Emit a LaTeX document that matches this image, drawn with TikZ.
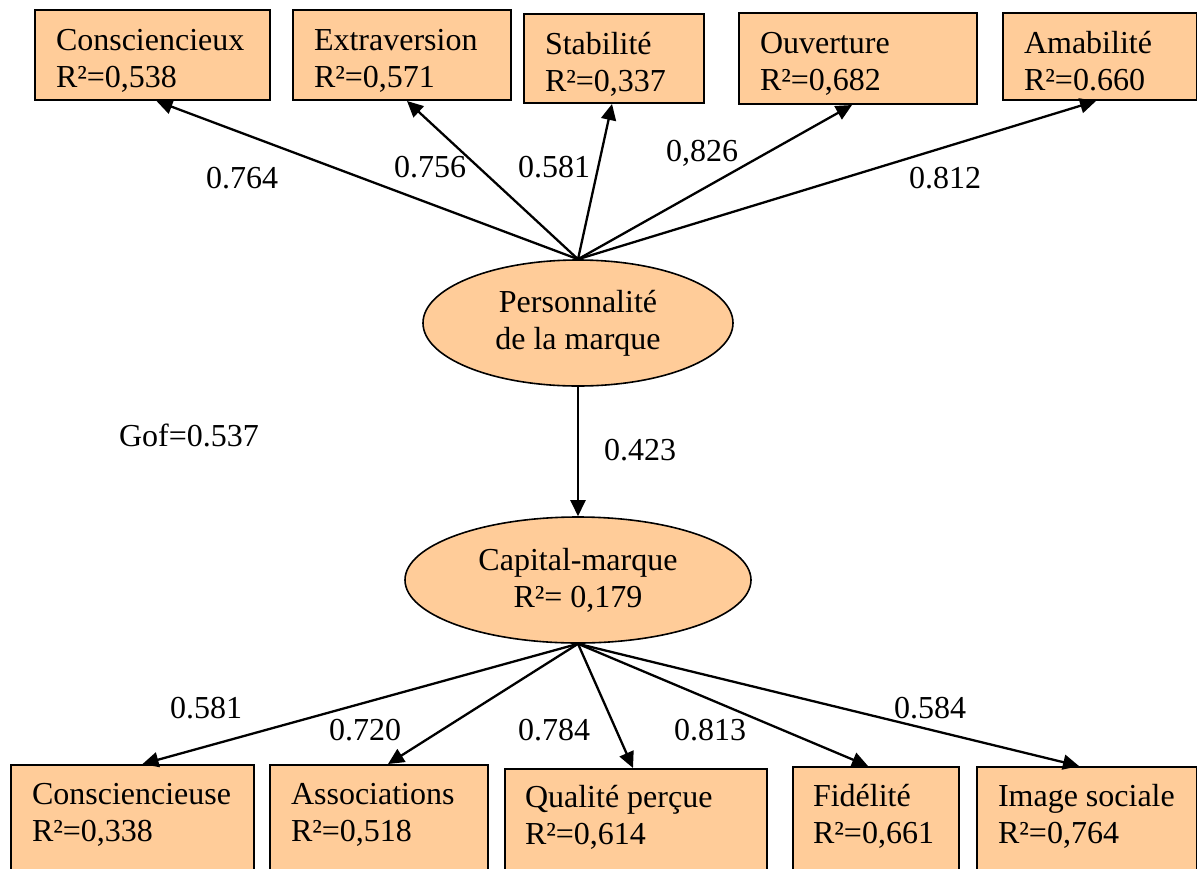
\documentclass[tikz,border=0pt]{standalone}
\usepackage{fontspec}
\setmainfont{Liberation Serif}
\usetikzlibrary{arrows.meta,shapes.geometric}
\definecolor{peach}{HTML}{FFCC99}
\begin{document}
\begin{tikzpicture}[x=1pt,y=-1pt,
  every node/.style={font=\fontsize{32pt}{37pt}\selectfont},
  ind/.style={draw=black, line width=2pt, fill=peach, anchor=north west,
              inner xsep=21pt, inner ysep=0pt, text height=40pt},
  lat/.style={ellipse, draw=black, line width=1.6pt, fill=peach, align=center, inner sep=0pt},
  coef/.style={inner sep=0pt},
  link/.style={line width=2.3pt, -{Triangle[length=16pt,width=15pt]}}
]
\useasboundingbox[fill=white] (0,0) rectangle (1197,868);

% latent variables
\node[lat, minimum width=310pt, minimum height=126pt] (P) at (578,323) {Personnalité\\de la marque};
\node[lat, minimum width=346pt, minimum height=126pt] (C) at (578,580) {Capital-marque\\R²= 0,179};

% top indicators
\node[ind, text depth=50pt] (c1) at (34,9)   {\parbox[t]{193pt}{Consciencieux\\R²=0,538}};
\node[ind, text depth=50pt] (c2) at (292,9)  {\parbox[t]{176pt}{Extraversion\\R²=0,571}};
\node[ind, text depth=49pt] (c3) at (523,13) {\parbox[t]{138pt}{Stabilité\\R²=0,337}};
\node[ind, text depth=51pt] (c4) at (738,12) {\parbox[t]{196pt}{Ouverture\\R²=0,682}};
\node[ind, text depth=47pt] (c5) at (1002,12){\parbox[t]{152pt}{Amabilité\\R²=0.660}};

% bottom indicators
\node[ind, text height=39pt, text depth=80pt] (d1) at (10,764)  {\parbox[t]{201pt}{Consciencieuse\\R²=0,338}};
\node[ind, text height=39pt, text depth=80pt] (d2) at (269,764) {\parbox[t]{176pt}{Associations\\R²=0,518}};
\node[ind, text height=38pt, text depth=80pt, inner xsep=20pt] (d3) at (504,768) {\parbox[t]{222pt}{Qualité perçue\\R²=0,614}};
\node[ind, text height=39pt, text depth=80pt, inner xsep=20pt] (d4) at (792,766) {\parbox[t]{126pt}{Fidélité\\R²=0,661}};
\node[ind, text height=39pt, text depth=80pt] (d5) at (976,766) {\parbox[t]{178pt}{Image sociale\\R²=0,764}};

% connectors
\draw[link] (P.north) -- ([xshift=4pt]c1.south);
\draw[link] (P.north) -- ([xshift=5pt]c2.south);
\draw[link] (P.north) -- ([xshift=-2pt]c3.south);
\draw[link] (P.north) -- ([xshift=-6pt]c4.south);
\draw[link] (P.north) -- ([xshift=-4pt]c5.south);
\draw[link] (P.south) -- (C.north);
\draw[link] (C.south) -- ([xshift=10pt]d1.north);
\draw[link] (C.south) -- ([xshift=9pt]d2.north);
\draw[link] (C.south) -- ([xshift=-3pt]d3.north);
\draw[link] (C.south) -- ([xshift=-8pt]d4.north);
\draw[link] (C.south) -- ([xshift=-8pt]d5.north);

% coefficients
\node[coef] (l1) at (242,178) {0.764};
\node[coef] (l2) at (430,167) {0.756};
\node[coef] (l3) at (554,167) {0.581};
\node[coef] (l4) at (702,153) {0,826};
\node[coef] (l5) at (945,178) {0.812};
\node[coef] (m)  at (640,450) {0.423};
\node[coef] (b1) at (206,708) {0.581};
\node[coef] (b2) at (365,730) {0.720};
\node[coef] (b3) at (554,730) {0.784};
\node[coef] (b4) at (710,730) {0.813};
\node[coef] (b5) at (930,708) {0.584};
\node[coef] (gof) at (189,435) {Gof=0.537};
\end{tikzpicture}
\end{document}
